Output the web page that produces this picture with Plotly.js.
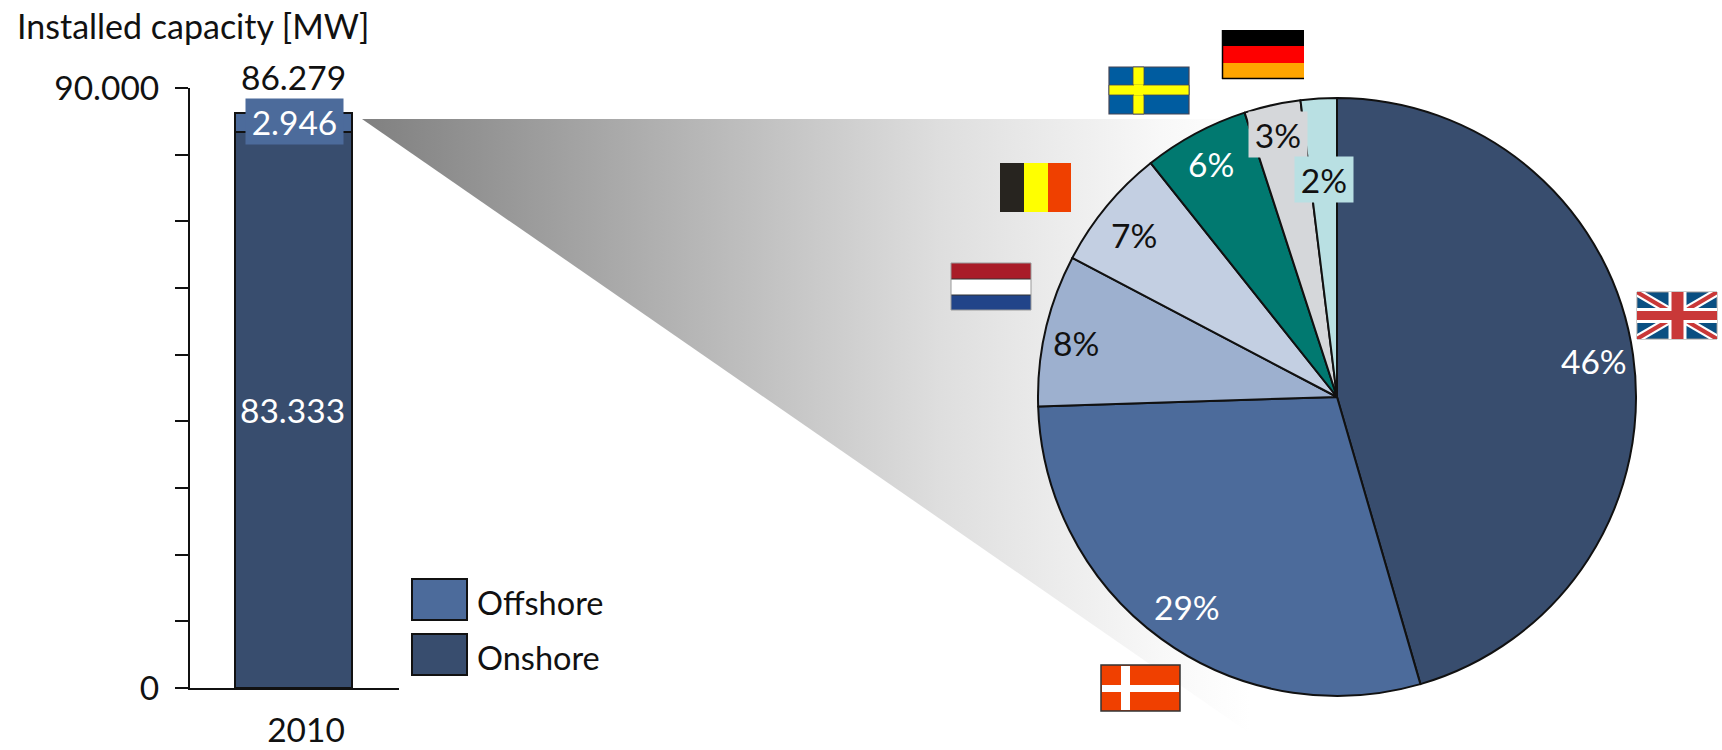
<!DOCTYPE html>
<html><head><meta charset="utf-8">
<script src="https://cdn.plot.ly/plotly-3.0.1.min.js"></script>
<style>html,body{margin:0;padding:0;background:#fff}#c{width:1722px;height:750px}</style>
</head><body><div id="c"></div>
<script>
const years = [2010];
const onshore = [83333];
const offshore = [2946];
const totalLabel = '86.279';
const onshoreLabel = '83.333';
const offshoreLabel = '2.946';
const yTickVals = [0,10000,20000,30000,40000,50000,60000,70000,80000,90000];
const yTickText = ['0','','','','','','','','','90.000'];
const countries = ['United Kingdom','Denmark','Netherlands','Belgium','Sweden','Germany','Other'];
const shares = [45.5,29.0,8.2,6.6,5.7,3.05,1.95];
const shareLabels = ['46%','29%','8%','7%','6%','3%','2%'];
const shareColors = ['#384d6e','#4c6b9b','#9db0cf','#c3cfe2','#017970','#d5d7da','#b9e0e3'];
const shareTextColors = ['#fff','#fff','#111','#111','#fff','#111','#111'];

const W=1722,H=750;
const FONT='Lato,"Open Sans",sans-serif';
const FS=33.5;
const DARK='#111';
const AX={l:190,r:399,t:88,b:688};
const PIE={l:1038,r:1636,t:98,b:696};
const BAR={l:235,r:352,tick:306};
const unit=AX.r-AX.l;

const px=(x)=>x/W, py=(y)=>1-y/H;
// label centres, pixel position on page: [x,y,boxW,boxH]
const sliceLabelPos=[[1594,361],[1187,607],[1076,343],[1134,235],[1211,164],[1278,135,58,45],[1324,179,58,45]];

const ann=(x,y,text,size,color,extra)=>Object.assign({xref:'paper',yref:'paper',x:px(x),y:py(y),text,showarrow:false,
  xanchor:'center',yanchor:'middle',font:{family:FONT,size,color}},extra||{});

const annotations=[
  ann(15,26,'Installed capacity [MW]',FS+0.5,DARK,{xanchor:'left'}),
  ann(293,77,totalLabel,FS,DARK),
  ann(294,122,offshoreLabel,FS,'#fff',{bgcolor:shareColors[1],width:97,height:45,borderpad:0}),
  ann(292,410,onshoreLabel,FS,'#fff'),
  ann(475,602,'Offshore',32.5,DARK,{xanchor:'left'}),
  ann(475,657,'Onshore',32.5,DARK,{xanchor:'left'}),
];
shareLabels.forEach((t,i)=>{
  const p=sliceLabelPos[i];
  const extra=p[2]?{bgcolor:shareColors[i],width:p[2],height:p[3],borderpad:0}:{};
  annotations.push(ann(p[0],p[1],t,FS,shareTextColors[i],extra));
});

const rect=(x0,y0,x1,y1,fill,line,lw)=>({type:'rect',xref:'x2',yref:'y2',x0,y0,x1,y1,fillcolor:fill,layer:'above',
  line:{color:line||fill,width:line?(lw||1.5):0}});
const poly=(pts,fill)=>({type:'path',xref:'x2',yref:'y2',layer:'above',fillcolor:fill,line:{width:0},
  path:'M'+pts.map(p=>p.join(',')).join('L')+'Z'});

function ukFlag(l,t,r,b){
  const blue='#0a4f82',red='#c93838',cx=(l+r)/2+0.5,cy=(t+b)/2;
  const s=[rect(l,t,r,b,blue,'#999',1)];
  const d=5,e=2.4;
  s.push(poly([[l,t],[l+d*1.6,t],[r,b-d],[r,b],[r-d*1.6,b],[l,t+d]],'#fff'));
  s.push(poly([[r,t],[r,t+d],[l+d*1.6,b],[l,b],[l,b-d],[r-d*1.6,t]],'#fff'));
  s.push(poly([[l,t],[l+e*1.6,t],[r,b-e],[r,b],[r-e*1.6,b],[l,t+e]],red));
  s.push(poly([[r,t],[r,t+e],[l+e*1.6,b],[l,b],[l,b-e],[r-e*1.6,t]],red));
  s.push(rect(cx-9,t,cx+9,b,'#fff'),rect(l,cy-7.5,r,cy+7.5,'#fff'));
  s.push(rect(cx-6,t,cx+6,b,red),rect(l,cy-4.5,r,cy+4.5,red));
  return s;
}

const shapes=[
  // legend swatches
  rect(412,579,467,620,shareColors[1],'#111',2),
  rect(412,634,467,675,shareColors[0],'#111',2),
  // Germany
  rect(1222,30,1304,46,'#000'),rect(1222,46,1304,63,'#fe0000'),rect(1222,63,1304,79,'#ffa500'),
  {type:'line',xref:'x2',yref:'y2',x0:1222,x1:1304,y0:78.5,y1:78.5,layer:'above',line:{color:'#000',width:1.5}},
  {type:'line',xref:'x2',yref:'y2',x0:1222.5,x1:1222.5,y0:30,y1:79,layer:'above',line:{color:'#000',width:1.5}},
  // Sweden
  rect(1109,67,1189,114,'#005ca0','#445',1.2),
  rect(1133,67,1144,114,'#ffff00','#445',0.8),rect(1109,85,1189,95,'#ffff00','#445',0.8),
  rect(1134,84.5,1143,95.5,'#ffff00'),
  // Belgium
  rect(1000,163,1024,212,'#27241f'),rect(1024,163,1048,212,'#ffff00'),rect(1048,163,1071,212,'#ef4000'),
  // Netherlands
  rect(951,263,1031,279,'#a91c28'),rect(951,279,1031,295,'#ffffff'),rect(951,295,1031,310,'#214489'),
  {type:'line',xref:'x2',yref:'y2',x0:951,x1:1031,y0:279,y1:279,layer:'above',line:{color:'#333',width:1}},
  {type:'line',xref:'x2',yref:'y2',x0:951,x1:1031,y0:295,y1:295,layer:'above',line:{color:'#333',width:1}},
  {type:'rect',xref:'x2',yref:'y2',x0:951,x1:1031,y0:263,y1:310,layer:'above',line:{color:'#999',width:1}},
  // Denmark
  rect(1101,665,1180,711,'#f04000','#333',1.5),
  rect(1121,666,1130,710,'#ffffff'),rect(1102,685,1179,692,'#ffffff'),
].concat(ukFlag(1637,292,1717,339));

const data=[
  {type:'scatter',mode:'lines',xaxis:'x2',yaxis:'y2',hoverinfo:'skip',showlegend:false,
   x:[362,1300,1300],y:[119,119,768],fill:'toself',line:{width:0},
   fillgradient:{type:'horizontal',start:362,stop:1250,
     colorscale:[[0,'#808080'],[0.651,'#dedede'],[0.9,'#f8f8f8'],[1,'#ffffff']]}},
  {type:'bar',name:'Onshore',x:years,y:onshore,width:(BAR.r-BAR.l)/unit,offset:(BAR.l-BAR.tick)/unit,
   marker:{color:shareColors[0],line:{color:'#111',width:2}}},
  {type:'bar',name:'Offshore',x:years,y:offshore,width:(BAR.r-BAR.l)/unit,offset:(BAR.l-BAR.tick)/unit,
   marker:{color:shareColors[1],line:{color:'#111',width:2}}},
  {type:'pie',labels:countries,values:shares,sort:false,direction:'clockwise',rotation:0,
   textinfo:'none',automargin:false,showlegend:false,
   domain:{x:[px(PIE.l),px(PIE.r)],y:[py(PIE.b),py(PIE.t)]},
   marker:{colors:shareColors,line:{color:'#111',width:2}}}
];

const tickLow=years[0]-(BAR.tick-AX.l)/unit;
const layout={
  width:W,height:H,margin:{l:0,r:0,t:0,b:0},paper_bgcolor:'#fff',plot_bgcolor:'rgba(0,0,0,0)',
  barmode:'stack',showlegend:false,font:{family:FONT,color:DARK,size:FS},
  xaxis:{domain:[px(AX.l),px(AX.r)],range:[tickLow,tickLow+1],tickmode:'array',tickvals:years,ticktext:years.map(String),
    ticklen:0,showgrid:false,zeroline:false,showline:true,linecolor:'#111',linewidth:2,anchor:'y',
    tickfont:{family:FONT,size:FS,color:DARK},ticklabelstandoff:12},
  yaxis:{domain:[py(AX.b),py(AX.t)],range:[0,90000],tickmode:'array',tickvals:yTickVals,ticktext:yTickText,
    ticks:'outside',ticklen:13,tickwidth:2,tickcolor:'#111',showgrid:false,zeroline:false,showline:true,linecolor:'#111',linewidth:2,anchor:'x',
    tickfont:{family:FONT,size:FS,color:DARK},ticklabelstandoff:9},
  xaxis2:{domain:[0,1],range:[0,W],visible:false,anchor:'y2',fixedrange:true},
  yaxis2:{domain:[0,1],range:[H,0],visible:false,anchor:'x2',fixedrange:true},
  annotations,shapes
};
Plotly.newPlot('c',data,layout,{displayModeBar:false,staticPlot:true});
</script></body></html>
